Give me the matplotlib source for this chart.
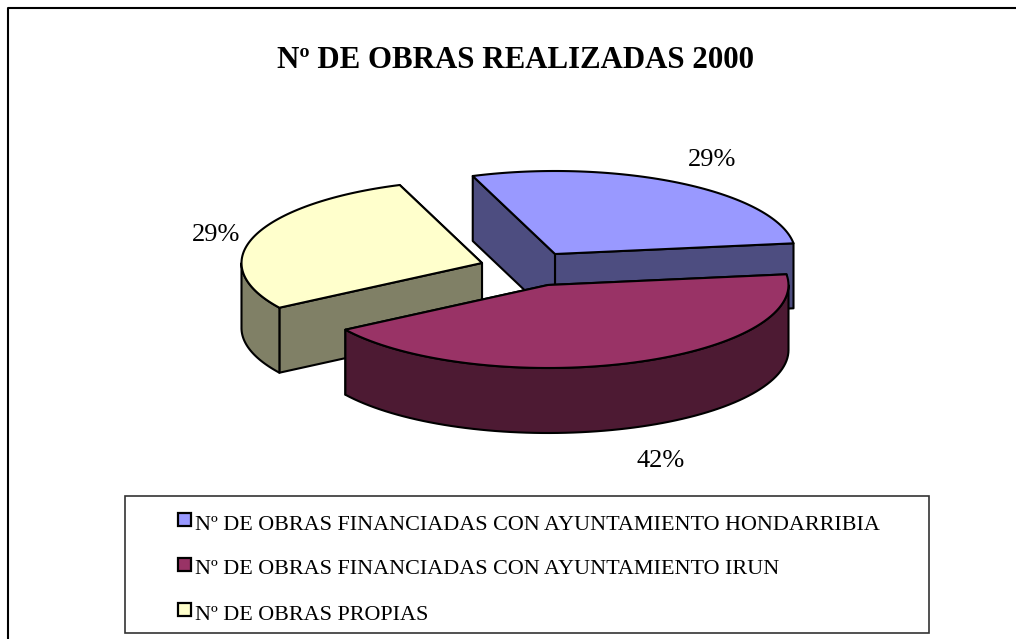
import numpy as np
from matplotlib import pyplot as plt
import matplotlib.patches as mpatches

plt.rcParams['font.family'] = ['Liberation Serif', 'DejaVu Serif']

title = "Nº DE OBRAS REALIZADAS 2000"
names = ["Nº DE OBRAS FINANCIADAS CON AYUNTAMIENTO HONDARRIBIA",
         "Nº DE OBRAS FINANCIADAS CON AYUNTAMIENTO IRUN",
         "Nº DE OBRAS PROPIAS"]
# slice shares as measured on the picture, the printed labels are rounded differently
shares = [28.5, 43, 28.5]
percent_labels = ["29%", "42%", "29%"]

top_colors = ['#9999ff', '#993366', '#ffffcc']
side_colors = ['#4d4d80', '#4d1a33', '#808066']

# pie layout, in pixels of the picture
apexes = [(555, 254), (548, 285), (482, 263)]
label_pos = [(712, 160), (661, 461), (216, 235)]
draw_order = [0, 2, 1]
start_angle = -20
rx, ry, depth = 240.5, 83, 65


def rim(apex, a, b):
    t = np.radians(np.linspace(a, b, 80))
    return apex[0] + rx * np.sin(t), apex[1] - ry * np.cos(t)


def draw_slice(ax, apex, a, b, top, side):
    # both cut faces first, the far one goes under the near one, top and rim
    for angle in (b, a):
        x, y = rim(apex, angle, angle)
        ax.fill([apex[0], x[0], x[0], apex[0]], [apex[1], y[0], y[0] + depth, apex[1] + depth],
                facecolor=side, edgecolor='black', linewidth=1.5, joinstyle='round')
    # outer wall only shows on the front half
    c, d = max(a, 90), min(b, 270)
    if c < d:
        x, y = rim(apex, c, d)
        ax.fill(np.r_[x, x[::-1]], np.r_[y, y[::-1] + depth],
                facecolor=side, edgecolor='black', linewidth=1.5, joinstyle='round')
    x, y = rim(apex, a, b)
    ax.fill(np.r_[apex[0], x], np.r_[apex[1], y],
            facecolor=top, edgecolor='black', linewidth=1.5, joinstyle='round')


fig = plt.figure(figsize=(10.16, 6.39), dpi=100)
ax = fig.add_axes([0, 0, 1, 1])
ax.set_xlim(0, 1016)
ax.set_ylim(639, 0)
ax.axis('off')

# chart frame, cut off by the picture on the right and at the bottom
ax.plot([8, 8, 1016], [639, 7.5, 7.5], color='black', linewidth=1.5)

ax.text(515.5, 60.5, title, fontsize=22.2, fontweight='bold', ha='center', va='center')

edges = start_angle + np.cumsum([0] + shares) / sum(shares) * 360
for i in draw_order:
    draw_slice(ax, apexes[i], edges[i], edges[i + 1], top_colors[i], side_colors[i])

for text, pos in zip(percent_labels, label_pos):
    ax.text(pos[0], pos[1], text, fontsize=19, ha='center', va='center')

# legend box
ax.add_patch(mpatches.Rectangle((125, 496), 804, 137, facecolor='white', edgecolor='#333333', linewidth=1.2))
row_y = [519, 564, 609]
for name, color, y in zip(names, top_colors, row_y):
    ax.add_patch(mpatches.Rectangle((178, y - 6.5), 12.5, 13, facecolor=color, edgecolor='black', linewidth=1.6))
    ax.text(195, y + 6, name, fontsize=15.9, ha='left', va='center')

fig.savefig('out.png', dpi=100)
